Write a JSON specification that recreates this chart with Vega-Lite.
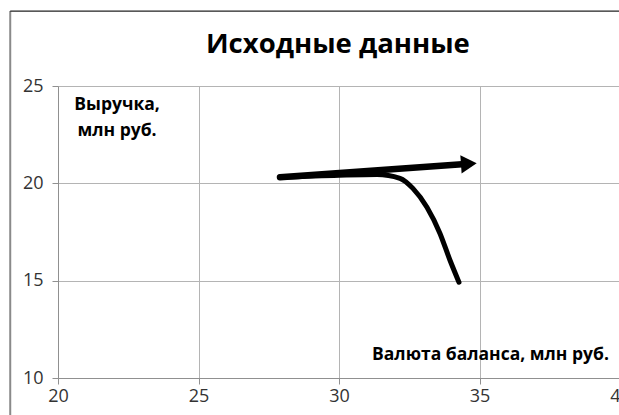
{
  "$schema": "https://vega.github.io/schema/vega-lite/v6.json",
  "width": 562,
  "height": 292,
  "autosize": {"type": "none"},
  "padding": {"left": 58, "top": 86, "right": 0, "bottom": 37},
  "background": "white",
  "config": {
    "view": {"stroke": null},
    "axis": {"labelFont": "Open Sans", "labelFontSize": 18, "labelColor": "#333333", "labelFlush": false, "gridColor": "#b4b4b4", "gridOpacity": 1, "domainColor": "#909090", "tickColor": "#909090", "tickSize": 6, "title": null}
  },
  "datasets": {
    "arrow": [
      {"x": 27.9, "y": 20.31},
      {"x": 34.5, "y": 20.99}
    ],
    "curve": [
      {"x": 27.9, "y": 20.31},
      {"x": 30.0, "y": 20.42},
      {"x": 31.35, "y": 20.46},
      {"x": 32.17, "y": 20.26},
      {"x": 32.63, "y": 19.74},
      {"x": 33.13, "y": 18.77},
      {"x": 33.59, "y": 17.44},
      {"x": 33.95, "y": 16.05},
      {"x": 34.27, "y": 14.92}
    ],
    "head": [{"x": 34.62, "y": 21.0}],
    "frameLeft": [{"x": 18.3, "y": 7, "y2": 28.85}],
    "frameTop": [{"x": 18.3, "x2": 43, "y": 28.85}],
    "title": [{"x": 29.96, "y": 26.69, "t": "Исходные данные"}],
    "labels": [
      {"x": 22.1, "y": 24.03, "t": "Выручка,"},
      {"x": 22.1, "y": 22.69, "t": "млн руб."},
      {"x": 35.39, "y": 11.18, "t": "Валюта баланса, млн руб."}
    ]
  },
  "encoding": {
    "x": {"field": "x", "type": "quantitative", "scale": {"domain": [20, 40], "nice": false, "zero": false}, "axis": {"values": [20, 25, 30, 35, 40], "labelPadding": 3}},
    "y": {"field": "y", "type": "quantitative", "scale": {"domain": [10, 25], "nice": false, "zero": false}, "axis": {"values": [10, 15, 20, 25], "labelPadding": 9}}
  },
  "layer": [
    {
      "data": {"name": "frameLeft"},
      "mark": {"type": "rule", "color": "#8a8a8a", "strokeWidth": 2, "clip": false},
      "encoding": {"y2": {"field": "y2"}}
    },
    {
      "data": {"name": "frameTop"},
      "mark": {"type": "rule", "color": "#222222", "strokeWidth": 1.2, "clip": false},
      "encoding": {"x2": {"field": "x2"}}
    },
    {
      "data": {"name": "curve"},
      "mark": {"type": "line", "color": "#000000", "strokeWidth": 5, "strokeCap": "round", "interpolate": "monotone"}
    },
    {
      "data": {"name": "arrow"},
      "mark": {"type": "line", "color": "#000000", "strokeWidth": 6.5, "strokeCap": "round"}
    },
    {
      "data": {"name": "head"},
      "mark": {"type": "point", "shape": "triangle-right", "filled": true, "color": "#000000", "opacity": 1, "size": 330, "angle": -4}
    },
    {
      "data": {"name": "title"},
      "mark": {"type": "text", "font": "Open Sans", "fontSize": 27.5, "fontWeight": "bold", "color": "#000000", "baseline": "alphabetic", "clip": false},
      "encoding": {"text": {"field": "t"}}
    },
    {
      "data": {"name": "labels"},
      "mark": {"type": "text", "font": "Open Sans", "fontSize": 17.5, "fontWeight": "bold", "color": "#000000", "baseline": "middle"},
      "encoding": {"text": {"field": "t"}}
    }
  ]
}
